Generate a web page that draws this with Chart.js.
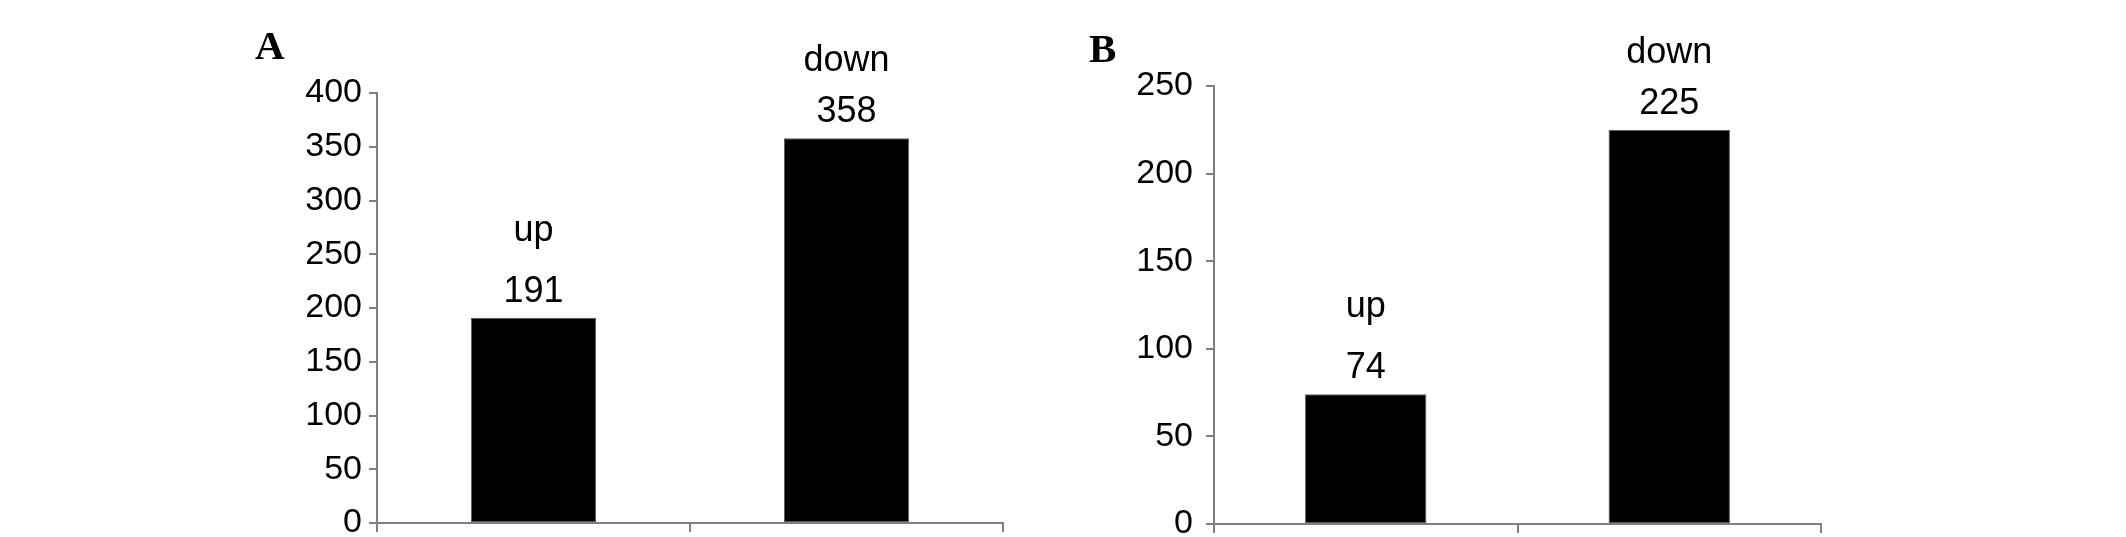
<!DOCTYPE html>
<html>
<head>
<meta charset="utf-8">
<script src="https://cdn.jsdelivr.net/npm/chart.js@4"></script>
<style>
    html, body { margin: 0; padding: 0; background: #fff; }
    #wrap { position: relative; width: 2126px; height: 537px; }
    canvas { position: absolute; top: 0; }
</style>
</head>
<body>
<div id="wrap">
    <canvas id="chartA" width="1063" height="537" style="left:0"></canvas>
    <canvas id="chartB" width="1063" height="537" style="left:1063px"></canvas>
</div>
<script>
const categories = ['up', 'down'];
const valuesA = [191, 358];
const valuesB = [74, 225];
const maxA = 400;
const maxB = 250;
const tickStep = 50;

const AXIS_GRAY = '#7f7f7f';
const FONT = '"Liberation Sans", Arial, sans-serif';
// distance from the count baseline up to the category word, per bar
const nameGap = [61, 51];

// draws "up"/"down" and the count above each bar
const barLabels = {
    id: 'barLabels',
    afterDatasetsDraw(chart) {
        const { ctx } = chart;
        const meta = chart.getDatasetMeta(0);
        ctx.save();
        ctx.fillStyle = '#000';
        ctx.textAlign = 'center';
        ctx.textBaseline = 'alphabetic';
        ctx.font = '36px ' + FONT;
        meta.data.forEach((bar, i) => {
            const numY = bar.y - 16;
            ctx.fillText(String(chart.data.datasets[0].data[i]), bar.x, numY);
            ctx.fillText(chart.data.labels[i], bar.x, numY - nameGap[i]);
        });
        ctx.restore();
    }
};

const panelLetter = {
    id: 'panelLetter',
    afterDraw(chart, args, opts) {
        const { ctx } = chart;
        ctx.save();
        ctx.fillStyle = '#000';
        ctx.font = 'bold 41px "Liberation Serif", "Times New Roman", serif';
        ctx.textBaseline = 'alphabetic';
        ctx.fillText(opts.text, opts.x, opts.y);
        ctx.restore();
    }
};

function makeChart(id, values, max, cfg) {
    return new Chart(document.getElementById(id), {
        type: 'bar',
        data: {
            labels: categories,
            datasets: [{
                data: values,
                backgroundColor: '#000',
                borderColor: '#5a5a5a',
                borderWidth: 1,
                borderSkipped: false,
                barPercentage: 0.4,
                categoryPercentage: 1,
            }],
        },
        options: {
            responsive: false,
            animation: false,
            events: [],
            layout: { padding: cfg.padding },
            plugins: {
                legend: { display: false },
                tooltip: { enabled: false },
                panelLetter: cfg.letter,
            },
            scales: {
                x: {
                    offset: true,
                    grid: {
                        offset: true,
                        drawOnChartArea: false,
                        drawTicks: true,
                        tickLength: 9,
                        color: AXIS_GRAY,
                        lineWidth: 2,
                    },
                    border: { display: true, color: AXIS_GRAY, width: 2 },
                    ticks: { display: false },
                    afterFit: (axis) => {
                        axis.height = 9;
                        axis.paddingLeft = 0;
                        axis.paddingRight = 0;
                    },
                },
                y: {
                    min: 0,
                    max: max,
                    ticks: {
                        stepSize: tickStep,
                        color: '#000',
                        padding: cfg.tickPad,
                        font: { size: 34, family: FONT },
                    },
                    grid: {
                        drawOnChartArea: false,
                        drawTicks: true,
                        tickLength: 8,
                        color: AXIS_GRAY,
                        lineWidth: 2,
                    },
                    border: { display: true, color: AXIS_GRAY, width: 2 },
                    afterFit: (axis) => {
                        // fixed width, and let the 0 label hang below the plot
                        axis.width = 80;
                        axis.paddingTop = 0;
                        axis.paddingBottom = 0;
                    },
                },
            },
        },
        plugins: [barLabels, panelLetter],
    });
}

makeChart('chartA', valuesA, maxA, {
    padding: { left: 297, right: 60, top: 93, bottom: 5 },
    tickPad: 7,
    letter: { text: 'A', x: 255, y: 59 },
});

makeChart('chartB', valuesB, maxB, {
    padding: { left: 71, right: 305, top: 86, bottom: 4 },
    tickPad: 13,
    letter: { text: 'B', x: 1089 - 1063, y: 62 },
});
</script>
</body>
</html>
